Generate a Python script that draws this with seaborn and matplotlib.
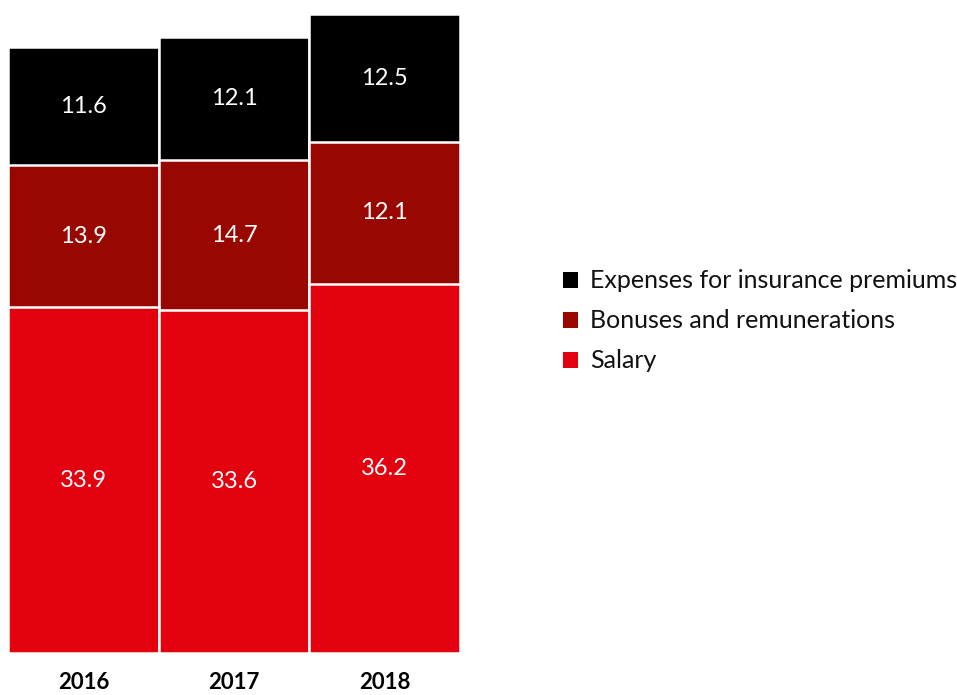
import matplotlib
matplotlib.use("Agg")
import matplotlib.pyplot as plt
from matplotlib.patches import Patch
import seaborn as sns
import pandas as pd
import numpy as np

years = ["2016", "2017", "2018"]
salary = [33.9, 33.6, 36.2]
bonus = [13.9, 14.7, 12.1]
insurance = [11.6, 12.1, 12.5]
# segment heights as drawn in the source picture (2018 bonus box is taller than its label)
bonus_drawn = [13.9, 14.7, 13.9]

series_names = ["Expenses for insurance premiums", "Bonuses and remunerations", "Salary"]
colors = {"Salary": "#e3000f", "Bonuses and remunerations": "#990800",
          "Expenses for insurance premiums": "#000000"}

sns.set_theme(style="white")
plt.rcParams["font.family"] = ["Lato", "DejaVu Sans"]

fig = plt.figure(figsize=(9.57, 6.95), dpi=100)
ax = fig.add_axes([8 / 957, 1 - 653 / 695, 452 / 957, 653 / 695])

s = np.array(salary)
b = np.array(bonus_drawn)
i = np.array(insurance)
df = pd.DataFrame({
    "year": years,
    "l3": s + b + i,
    "l2": s + b,
    "l1": s,
})

for col, name in [("l3", "Expenses for insurance premiums"),
                  ("l2", "Bonuses and remunerations"),
                  ("l1", "Salary")]:
    sns.barplot(data=df, x="year", y=col, color=colors[name], width=1.0,
                edgecolor="white", linewidth=1.8, saturation=1, ax=ax)

label_sets = [(s / 2, salary), (s + b / 2, bonus), (s + b + i / 2, insurance)]
for ys, vals in label_sets:
    for k, (yv, v) in enumerate(zip(ys, vals)):
        ax.text(k, yv, f"{v:.1f}", color="white", ha="center", va="center", fontsize=17)

ax.set_xlim(-0.5, 2.5)
ax.set_ylim(0, 64.0)
ax.set_xlabel("")
ax.set_ylabel("")
ax.set_yticks([])
ax.tick_params(axis="x", length=0, pad=14)
for lab in ax.get_xticklabels():
    lab.set_fontweight("bold")
    lab.set_fontsize(16)
    lab.set_color("black")
for sp in ax.spines.values():
    sp.set_visible(False)

handles = [Patch(facecolor=colors[n], edgecolor="none", label=n) for n in series_names]
fig.legend(handles=handles, loc="center left", bbox_to_anchor=(563 / 957, 1 - 321 / 695),
           frameon=False, fontsize=18, handlelength=0.6, handleheight=0.6,
           handletextpad=0.5, labelspacing=0.68, borderpad=0, borderaxespad=0,
           labelcolor="#111111")

fig.savefig("out.png", dpi=100)
